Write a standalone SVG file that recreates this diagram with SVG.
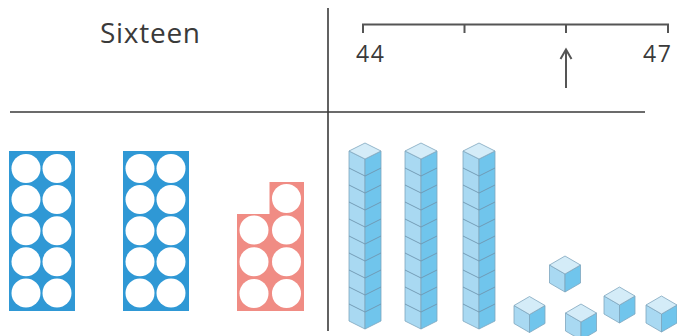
<svg xmlns="http://www.w3.org/2000/svg" xmlns:xlink="http://www.w3.org/1999/xlink" width="677" height="336" viewBox="0 0 677 336">
<style>
  .txt { font-family: "Open Sans", "DejaVu Sans", sans-serif; fill: #3a3a3a; }
  .num { font-size: 23px; }
  .div { stroke: #3a3a3a; stroke-width: 1.6; fill: none; }
  .nl { stroke: #555; stroke-width: 2; fill: none; }
  .hole { fill: #ffffff; }
  .blue { fill: #2f98d5; }
  .pink { fill: #f08c84; }
  .top { fill: #d4ecf8; stroke: #7fa6be; stroke-width: 0.8; stroke-linejoin: round; }
  .lf { fill: #a9d9f2; stroke: #7fa6be; stroke-width: 0.8; stroke-linejoin: round; }
  .rf { fill: #70c5ec; stroke: #7fa6be; stroke-width: 0.8; stroke-linejoin: round; }
  .edge { stroke: #6f96b0; stroke-width: 0.9; fill: none; }
</style>
<defs>
  <g id="cube">
    <polygon class="lf" points="-15.5,9 0,18 0,36 -15.5,27"/>
    <polygon class="rf" points="0,18 15.5,9 15.5,27 0,36"/>
    <polygon class="top" points="0,0 -15.5,9 0,18 15.5,9"/>
  </g>
  <g id="rod">
    <polygon class="lf" points="-16,8 0,16 0,186 -16,178"/>
    <polygon class="rf" points="0,16 16,8 16,178 0,186"/>
    <polygon class="top" points="0,0 -16,8 0,16 16,8"/>
    <polyline class="edge" points="-16,25 0,33 16,25"/>
    <polyline class="edge" points="-16,42 0,50 16,42"/>
    <polyline class="edge" points="-16,59 0,67 16,59"/>
    <polyline class="edge" points="-16,76 0,84 16,76"/>
    <polyline class="edge" points="-16,93 0,101 16,93"/>
    <polyline class="edge" points="-16,110 0,118 16,110"/>
    <polyline class="edge" points="-16,127 0,135 16,127"/>
    <polyline class="edge" points="-16,144 0,152 16,144"/>
    <polyline class="edge" points="-16,161 0,169 16,161"/>
  </g>
  <g id="frame10">
    <rect class="blue" x="0" y="0" width="66" height="160"/>
    <circle class="hole" cx="17" cy="17.5" r="14.5"/>
    <circle class="hole" cx="48" cy="17.5" r="14.5"/>
    <circle class="hole" cx="17" cy="48.6" r="14.5"/>
    <circle class="hole" cx="48" cy="48.6" r="14.5"/>
    <circle class="hole" cx="17" cy="79.7" r="14.5"/>
    <circle class="hole" cx="48" cy="79.7" r="14.5"/>
    <circle class="hole" cx="17" cy="110.8" r="14.5"/>
    <circle class="hole" cx="48" cy="110.8" r="14.5"/>
    <circle class="hole" cx="17" cy="142" r="14.5"/>
    <circle class="hole" cx="48" cy="142" r="14.5"/>
  </g>
</defs>

<g id="dividers">
  <line class="div" x1="328" y1="8" x2="328" y2="331"/>
  <line class="div" x1="10" y1="112" x2="645" y2="112"/>
</g>

<g id="title">
  <text class="txt" x="100" y="43" font-size="28" textLength="100">Sixteen</text>
</g>

<g id="number-line">
  <polyline class="nl" points="363,33 363,24.5 668,24.5 668,33"/>
  <line class="nl" x1="464.5" y1="24.5" x2="464.5" y2="33"/>
  <line class="nl" x1="566" y1="24.5" x2="566" y2="33"/>
  <text class="txt num" x="356" y="62" textLength="28">44</text>
  <text class="txt num" x="643" y="62" textLength="28">47</text>
</g>

<g id="connectors">
  <line class="nl" x1="566" y1="88" x2="566" y2="50"/>
  <polyline class="nl" points="560.5,59 566,49.5 571.5,59" stroke-linejoin="miter"/>
</g>

<g id="tens-frame-1">
  <use xlink:href="#frame10" x="9" y="151"/>
</g>
<g id="tens-frame-2">
  <use xlink:href="#frame10" x="123" y="151"/>
</g>
<g id="tens-frame-6">
  <polygon class="pink" points="237,214 269.5,214 269.5,182 304,182 304,311 237,311"/>
  <circle class="hole" cx="286.5" cy="198.5" r="14.5"/>
  <circle class="hole" cx="254" cy="230" r="14.5"/>
  <circle class="hole" cx="286.5" cy="230" r="14.5"/>
  <circle class="hole" cx="254" cy="261.7" r="14.5"/>
  <circle class="hole" cx="286.5" cy="261.7" r="14.5"/>
  <circle class="hole" cx="254" cy="293.4" r="14.5"/>
  <circle class="hole" cx="286.5" cy="293.4" r="14.5"/>
</g>

<g id="rods">
  <use xlink:href="#rod" x="365" y="143"/>
  <use xlink:href="#rod" x="421" y="143"/>
  <use xlink:href="#rod" x="479" y="143"/>
</g>

<g id="cubes">
  <use xlink:href="#cube" x="565" y="256"/>
  <use xlink:href="#cube" x="529.5" y="296.5"/>
  <use xlink:href="#cube" x="581" y="304"/>
  <use xlink:href="#cube" x="619.5" y="287"/>
  <use xlink:href="#cube" x="661.5" y="296"/>
</g>
</svg>
